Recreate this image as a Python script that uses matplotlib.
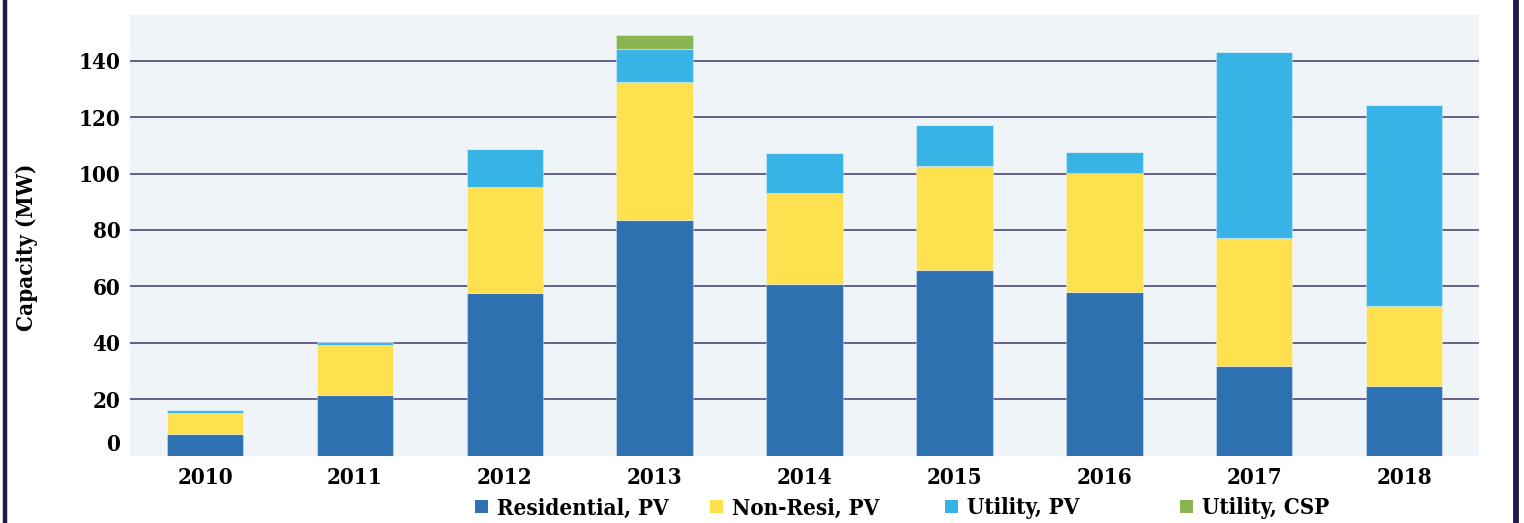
import matplotlib.pyplot as plt
import matplotlib.transforms as mtransforms
from matplotlib.patches import Patch
from matplotlib.lines import Line2D
import numpy as np

# data (MW)
years = ["2010", "2011", "2012", "2013", "2014", "2015", "2016", "2017", "2018"]
residential_pv = [7.5, 21.3, 57.6, 83.5, 60.8, 65.8, 58.0, 31.7, 24.8]
non_resi_pv = [7.6, 17.8, 37.6, 49.1, 32.3, 36.9, 42.2, 45.4, 28.2]
utility_pv = [1.0, 1.3, 13.5, 11.4, 14.2, 14.5, 7.4, 66.0, 71.3]
utility_csp = [0, 0, 0, 5.1, 0, 0, 0, 0, 0]

series_names = ["Residential, PV", "Non-Resi, PV", "Utility, PV", "Utility, CSP"]
colors = ["#2e71b0", "#ffe04f", "#38b3e6", "#8ab352"]
y_ticks = [0, 20, 40, 60, 80, 100, 120, 140]

plt.rcParams['font.family'] = ['DejaVu Serif']
plt.rcParams['font.weight'] = 'bold'
plt.rcParams['font.stretch'] = 'condensed'

fig = plt.figure(figsize=(15.24, 5.23), dpi=100)
ax = fig.add_axes([0.0853, 0.129, 0.8852, 0.8423])
ax.set_facecolor("#eef4f8")

x = np.arange(len(years))
bottom = np.zeros(len(years))
for vals, name, col in zip([residential_pv, non_resi_pv, utility_pv, utility_csp], series_names, colors):
    vals = np.array(vals)
    ax.bar(x, vals, 0.51, bottom=bottom, color=col, label=name,
           edgecolor=(1, 1, 1, 0.35), linewidth=0.8, zorder=3)
    bottom += vals

ax.set_xlim(-0.5, len(years) - 0.5)
ax.set_ylim(0, 156.2)
ax.set_yticks(y_ticks)
ax.set_xticks(x)
ax.set_xticklabels(years)
for t in y_ticks[1:]:
    ax.axhline(t, color="#3f3a6b", lw=1.1, zorder=1)

ax.tick_params(axis='both', length=0, labelsize=16)
ax.tick_params(axis='y', pad=7)
ax.tick_params(axis='x', pad=8)
for lab in ax.get_xticklabels() + ax.get_yticklabels():
    lab.set_fontweight('bold')
# the zero label sits a bit above the baseline in the original
zero = ax.get_yticklabels()[0]
zero.set_transform(zero.get_transform() + mtransforms.ScaledTranslation(0, 13 / 100, fig.dpi_scale_trans))

for s in ax.spines.values():
    s.set_visible(False)

ax.set_ylabel("Capacity (MW)", fontsize=16, fontweight='bold')
ax.yaxis.set_label_coords(-0.0685, 0.473)

# legend entries sit in equal-width columns
for i, (c, n) in enumerate(zip(colors, series_names)):
    fig.legend(handles=[Patch(facecolor=c, label=n)], loc='center left',
               bbox_to_anchor=((475 + 235 * i) / 1524, 0.028), frameon=False,
               fontsize=16, handlelength=0.58, handleheight=0.58, handletextpad=0.42,
               borderpad=0, borderaxespad=0)

# dark frame bars on both sides
fig.add_artist(Line2D([5 / 1524, 5 / 1524], [0, 1], color="#1e1a4a", lw=3.2))
fig.add_artist(Line2D([1516 / 1524, 1516 / 1524], [0, 1], color="#1e1a4a", lw=4.2))

fig.savefig("out.png", dpi=100)
